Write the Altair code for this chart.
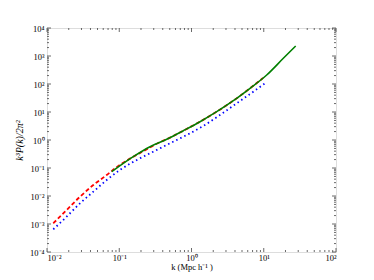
import altair as alt
import pandas as pd

# ---- data ----
red_k = [0.01222, 0.01774, 0.02864, 0.04375, 0.0670, 0.0970, 0.1138, 0.2153, 0.3467,
         0.454, 0.771, 1.312, 2.234, 3.793, 6.457, 9.77]
red_y = [0.001059, 0.002748, 0.00944, 0.0247, 0.0562, 0.1178, 0.1545, 0.40, 0.78,
         1.07, 2.15, 4.51, 10.26, 25.35, 70.15, 164.0]

blue_k = [0.01222, 0.01774, 0.02864, 0.04375, 0.0670, 0.1023, 0.1936, 0.2958, 0.5035,
          0.859, 1.455, 2.477, 4.227, 7.161, 10.40]
blue_y = [0.000647, 0.0016, 0.00548, 0.01426, 0.03724, 0.0849, 0.2218, 0.382, 0.762,
          1.51, 3.162, 7.816, 20.46, 53.09, 105.9]

green_k = [0.0787, 0.1563, 0.2667, 0.454, 0.771, 1.312, 2.234, 3.793, 6.457, 10.99,
           18.66, 27.67]
green_y = [0.0738, 0.2535, 0.575, 1.059, 2.148, 4.508, 10.26, 25.35, 70.15, 209.4,
           827.9, 2275.0]

x_major = [0.01, 0.1, 1, 10, 100]
x_labels = ["10⁻²", "10⁻¹", "10⁰", "10¹", "10²"]
y_major = [1e-4, 1e-3, 1e-2, 1e-1, 1, 10, 100, 1000, 10000]
y_labels = ["10⁻⁴", "10⁻³", "10⁻²", "10⁻¹", "10⁰", "10¹", "10²", "10³", "10⁴"]
mults = [2, 3, 4, 5, 6, 7, 8, 9]
x_decades = [0.01, 0.1, 1, 10]
y_decades = [1e-4, 1e-3, 1e-2, 1e-1, 1, 10, 100, 1000]

W, H = 289, 224
FONT = "Liberation Serif"
FRAME = "#444444"

x_minor = [m * d for d in x_decades for m in mults]
y_minor = [m * d for d in y_decades for m in mults]

xs = alt.Scale(type="log", domain=[0.01, 100], nice=False)
ys = alt.Scale(type="log", domain=[1e-4, 1e4], nice=False)

def arr(lst):
    return "[" + ",".join("'" + s + "'" for s in lst) + "]"

x_axis = alt.Axis(values=x_major, labelExpr=arr(x_labels) + "[round(log(datum.value)/LN10)+2]",
                  ticks=False, domain=False, grid=False, labelPadding=1,
                  labelFont=FONT, labelFontSize=8.5, labelColor="black",
                  title="k (Mpc h⁻¹ )", titleFont=FONT, titleFontSize=8.5,
                  titleFontWeight="normal", titleColor="black",
                  titleY=17.5, titleBaseline="alphabetic")
y_axis = alt.Axis(values=y_major, labelExpr=arr(y_labels) + "[round(log(datum.value)/LN10)+4]",
                  ticks=False, domain=False, grid=False, labelPadding=3,
                  labelFont=FONT, labelFontSize=8.5, labelColor="black",
                  title="k³P(k)/2π²", titleFont=FONT, titleFontSize=10,
                  titleFontStyle="italic", titleFontWeight="normal", titlePadding=5,
                  titleColor="black")

def line_df(k, y):
    return pd.DataFrame({"k": k, "y": y})

def line(k, y, **kw):
    return alt.Chart(line_df(k, y)).mark_line(interpolate="monotone", **kw).encode(
        x=alt.X("k:Q", scale=xs, axis=x_axis),
        y=alt.Y("y:Q", scale=ys, axis=y_axis))

blue = line(blue_k, blue_y, color="#0000ff", strokeWidth=1.8, strokeDash=[1.5, 3])
red = line(red_k, red_y, color="#ff0000", strokeWidth=1.8, strokeDash=[4, 2.5])
green = line(green_k, green_y, color="#008000", strokeWidth=1.6)

def xticks(vals, length, bottom):
    d = pd.DataFrame({"v": vals})
    if bottom:
        y0, y1 = H - length, H
    else:
        y0, y1 = 0, length
    return alt.Chart(d).mark_rule(color=FRAME, strokeWidth=0.8).encode(
        x=alt.X("v:Q", scale=xs, axis=x_axis),
        y=alt.value(y0), y2=alt.value(y1))

def yticks(vals, length, left):
    d = pd.DataFrame({"v": vals})
    if left:
        x0, x1 = 0, length
    else:
        x0, x1 = W - length, W
    return alt.Chart(d).mark_rule(color=FRAME, strokeWidth=0.8).encode(
        y=alt.Y("v:Q", scale=ys, axis=y_axis),
        x=alt.value(x0), x2=alt.value(x1))

ticks = [
    xticks(x_major, 4, True), xticks(x_major, 4, False),
    xticks(x_minor, 2, True), xticks(x_minor, 2, False),
    yticks(y_major, 4, True), yticks(y_major, 4, False),
    yticks(y_minor, 2, True), yticks(y_minor, 2, False),
]

chart = alt.layer(blue, red, green, *ticks).properties(
    width=W, height=H, autosize="none",
    padding={"left": 39, "top": 20, "right": 30, "bottom": 20},
).configure_view(stroke=FRAME, strokeWidth=1).configure(background="white")

chart.save("out.html", embed_options={"renderer": "svg", "actions": False})
